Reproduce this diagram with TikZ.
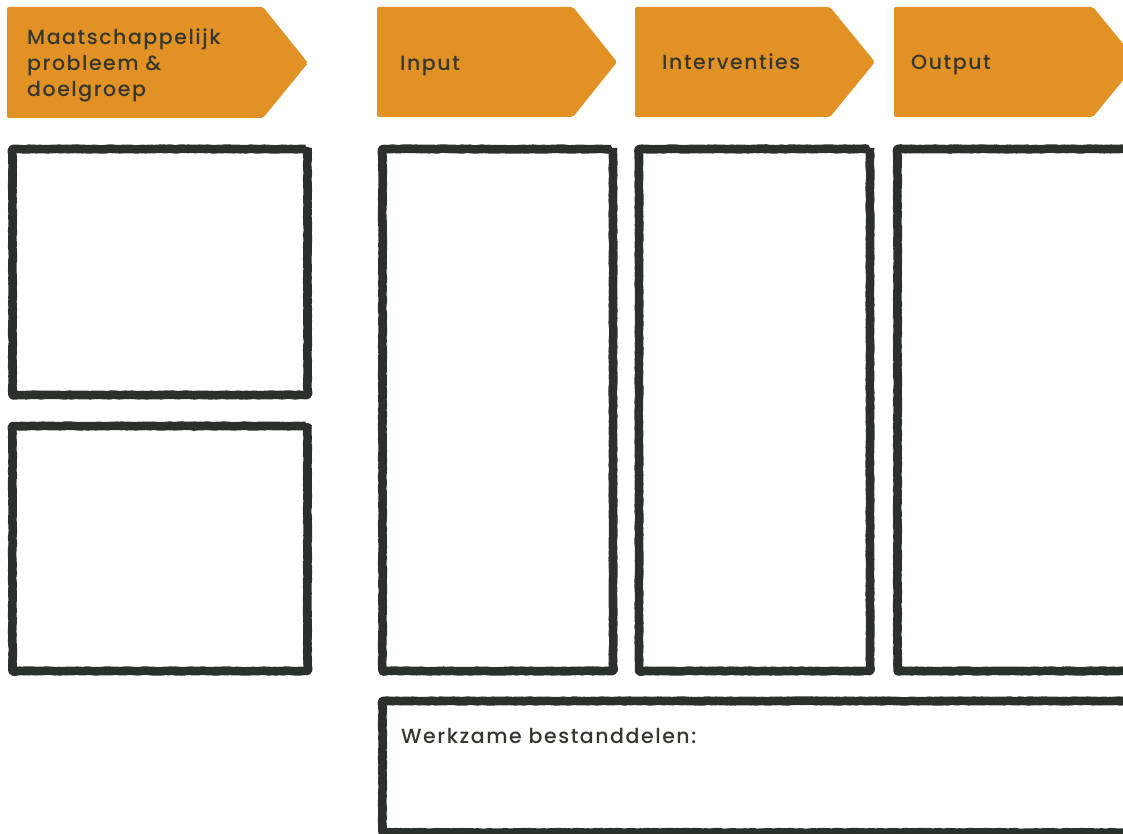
\documentclass[tikz,border=0pt]{standalone}
\usepackage{fontspec}
\setmainfont{Poppins}[UprightFont={* Medium}, LetterSpace=7.5]
\usetikzlibrary{decorations.pathmorphing}
\definecolor{tagorange}{HTML}{E29224}
\definecolor{inkdark}{HTML}{2C302D}
\definecolor{tagtext}{HTML}{34362F}
\pgfmathsetseed{7}
\tikzset{
  rough/.style={decorate, decoration={random steps, segment length=2.2pt, amplitude=0.45pt}},
  tag/.style={fill=tagorange, rounded corners=2pt},
  tagtitle/.style={anchor=base west, inner sep=0pt, text=tagtext, font=\fontsize{20.5}{26}\selectfont, align=left},
  frame/.style={draw=inkdark, line width=8.5pt, line join=round, rounded corners=2pt, rectangle, inner sep=0pt, fill=none},
}
\begin{document}
\begin{tikzpicture}[x=1pt, y=-1pt]
\useasboundingbox (0,0) rectangle (1123,834);
\clip (0,0) rectangle (1123,834);

% arrow-shaped heading tags
\fill[tag] (7,7) -- (263,7) -- (308,63) -- (263,118) -- (7,118) -- cycle;
\fill[tag] (377,7) -- (573,7) -- (617,62) -- (573,117) -- (377,117) -- cycle;
\fill[tag] (635,7) -- (830,7) -- (875,62) -- (830,117) -- (635,117) -- cycle;
\fill[tag] (894,7) -- (1093,7) -- (1138,62) -- (1093,117) -- (894,117) -- cycle;

\node[tagtitle] (t1) at (27,45) {Maatschappelijk};
\node[tagtitle] (t1b) at (27,71) {probleem \&};
\node[tagtitle] (t1c) at (27,96.5) {doelgroep};
\node[tagtitle] (t2) at (400,70.5) {Input};
\node[tagtitle] (t3) at (662,70) {Interventies};
\node[tagtitle] (t4) at (911,70) {Output};

% empty frames
\node[frame, rough, minimum width=295pt, minimum height=246pt] (probleem) at (160,272) {};
\node[frame, rough, minimum width=295pt, minimum height=245pt] (doelgroep) at (160,548.5) {};
\node[frame, rough, minimum width=230.5pt, minimum height=522pt] (input) at (497.75,410) {};
\node[frame, rough, minimum width=231pt, minimum height=522pt] (interventies) at (754.5,410) {};
\node[frame, rough, minimum width=232pt, minimum height=522pt] (output) at (1013.5,410) {};
\node[frame, rough, minimum width=752pt, minimum height=131.5pt] (werkzaam) at (758.5,766.75) {};

\node[tagtitle] (wb) at (401,743.5) {Werkzame bestanddelen:};
\end{tikzpicture}
\end{document}
